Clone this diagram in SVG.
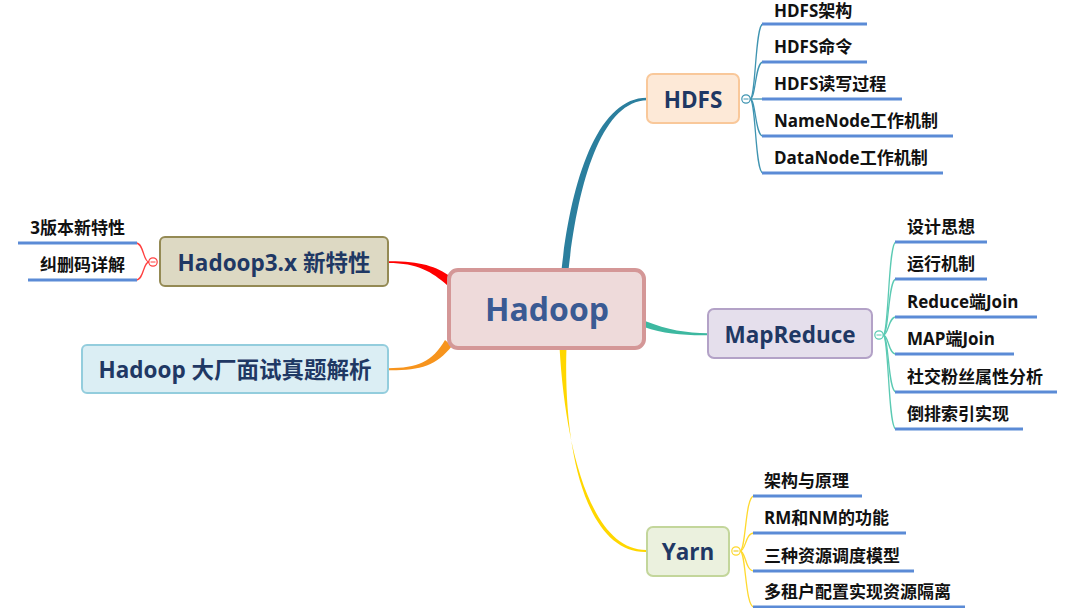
<svg xmlns="http://www.w3.org/2000/svg" width="1071" height="608" viewBox="0 0 1071 608">
<style>
.node text{font-family:"Open Sans","Noto Sans CJK SC",sans-serif;font-weight:bold;text-anchor:middle}
.nt{fill:#1f3864;font-size:22.5px}
.leaf text{font-family:"Open Sans","Noto Sans CJK SC",sans-serif;font-weight:bold;font-size:17px;fill:#111}
.ul{stroke:#5b8bd6;stroke-width:3;fill:none}
.br{fill:none;stroke-width:1.3}
.col{fill:#fff;stroke-width:1.2}
</style>
<rect width="1071" height="608" fill="#fff"/>
<g id="connectors">
  <path d="M561.5,270 C571,180 598,97.5 647,97.8 L647,100.2 C602,101 578,182 568.5,270 Z" fill="#2b7f9e"/>
  <path d="M645,321 C668,330 686,333 708,333.2 L708,335.2 C684,335.5 664,334 644,327 Z" fill="#3db8a0"/>
  <path d="M559.5,347 C565,445 590,551 647,550 L647,552 C586,554 563,450 566.5,347 Z" fill="#ffd700"/>
  <path d="M388,261.2 C420,261 436,266 451,277 L447,285 C432,272 418,263 388,263 Z" fill="#ff0000"/>
  <path d="M388,368.2 C418,368 432,362 445,340 L452,346 C436,366 420,370.5 388,370.2 Z" fill="#f7941d"/>
  <g stroke="#3f94b1" class="br">
    <path d="M750,99 C756,99 755,24 763,24"/>
    <path d="M750,99 C756,99 755,62 763,62"/>
    <path d="M750,99 L763,99"/>
    <path d="M750,99 C756,99 755,136 763,136"/>
    <path d="M750,99 C756,99 755,173 763,173"/>
  </g>
  <g stroke="#5bcab3" class="br">
    <path d="M883,335 C889,335 888,242 896,242"/>
    <path d="M883,335 C889,335 888,279 896,279"/>
    <path d="M883,335 C889,335 888,317 896,317"/>
    <path d="M883,335 C889,335 888,354 896,354"/>
    <path d="M883,335 C889,335 888,392 896,392"/>
    <path d="M883,335 C889,335 888,429 896,429"/>
  </g>
  <g stroke="#ffd92e" class="br">
    <path d="M740,551 C746,551 745,496 754,496"/>
    <path d="M740,551 C746,551 745,533 754,533"/>
    <path d="M740,551 C746,551 745,571 754,571"/>
    <path d="M740,551 C746,551 745,607 754,607"/>
  </g>
  <g stroke="#ff4040" class="br">
    <path d="M149,262 C143,262 144,243 136,243"/>
    <path d="M149,262 C143,262 144,280 136,280"/>
  </g>
  <g>
    <circle cx="746" cy="99" r="4.2" class="col" stroke="#3f94b1"/><path d="M743.5,99 H748.5" stroke="#3f94b1" stroke-width="1"/>
    <circle cx="879" cy="335" r="4.2" class="col" stroke="#5bcab3"/><path d="M876.5,335 H881.5" stroke="#5bcab3" stroke-width="1"/>
    <circle cx="736" cy="551" r="4.2" class="col" stroke="#ffd92e"/><path d="M733.5,551 H738.5" stroke="#e6c200" stroke-width="1"/>
    <circle cx="153" cy="262" r="4.2" class="col" stroke="#ff4040"/><path d="M150.5,262 H155.5" stroke="#ff4040" stroke-width="1"/>
  </g>
</g>
<g id="hadoop" class="node">
  <rect x="449" y="270" width="195" height="78" rx="9" fill="#eedada" stroke="#d49797" stroke-width="4"/>
  <text x="547" y="321" font-size="32" fill="#3a5a93">Hadoop</text>
</g>
<g id="hdfs" class="node">
  <rect x="647" y="74" width="92" height="49" rx="6" fill="#fde9d7" stroke="#f9c89a" stroke-width="2"/>
  <text x="693" y="108" class="nt">HDFS</text>
</g>
<g id="mapreduce" class="node">
  <rect x="708" y="309" width="164" height="49" rx="6" fill="#e5dfec" stroke="#b3a2c7" stroke-width="2"/>
  <text x="790" y="343" class="nt">MapReduce</text>
</g>
<g id="yarn" class="node">
  <rect x="647" y="527" width="82" height="49" rx="6" fill="#ebf1de" stroke="#c3d69b" stroke-width="2"/>
  <text x="688" y="560" class="nt">Yarn</text>
</g>
<g id="hadoop3x" class="node">
  <rect x="160" y="237" width="228" height="49" rx="5" fill="#ddd9c3" stroke="#948a54" stroke-width="2"/>
  <text x="274" y="271" class="nt">Hadoop3.x 新特性</text>
</g>
<g id="interview" class="node">
  <rect x="82" y="345" width="306" height="48" rx="5" fill="#dbeef4" stroke="#93cddd" stroke-width="2"/>
  <text x="235" y="378" class="nt">Hadoop 大厂面试真题解析</text>
</g>
<g id="hdfs-children" class="leaf">
  <g id="hdfs-arch"><text x="774" y="17">HDFS架构</text><path class="ul" d="M762,24 H867"/></g>
  <g id="hdfs-cmd"><text x="774" y="53">HDFS命令</text><path class="ul" d="M762,62 H867"/></g>
  <g id="hdfs-rw"><text x="774" y="90">HDFS读写过程</text><path class="ul" d="M762,99 H902"/></g>
  <g id="hdfs-nn"><text x="774" y="127">NameNode工作机制</text><path class="ul" d="M762,136 H953"/></g>
  <g id="hdfs-dn"><text x="774" y="164">DataNode工作机制</text><path class="ul" d="M762,173 H943"/></g>
</g>
<g id="mr-children" class="leaf">
  <g id="mr-design"><text x="907" y="233">设计思想</text><path class="ul" d="M895,242 H987"/></g>
  <g id="mr-run"><text x="907" y="270">运行机制</text><path class="ul" d="M895,279 H987"/></g>
  <g id="mr-rjoin"><text x="907" y="308">Reduce端Join</text><path class="ul" d="M895,317 H1037"/></g>
  <g id="mr-mjoin"><text x="907" y="345">MAP端Join</text><path class="ul" d="M895,354 H1014"/></g>
  <g id="mr-social"><text x="907" y="383">社交粉丝属性分析</text><path class="ul" d="M895,392 H1057"/></g>
  <g id="mr-index"><text x="907" y="420">倒排索引实现</text><path class="ul" d="M895,429 H1023"/></g>
</g>
<g id="yarn-children" class="leaf">
  <g id="yarn-arch"><text x="764" y="487">架构与原理</text><path class="ul" d="M753,496 H862"/></g>
  <g id="yarn-rmnm"><text x="764" y="524">RM和NM的功能</text><path class="ul" d="M753,533 H906"/></g>
  <g id="yarn-sched"><text x="764" y="562">三种资源调度模型</text><path class="ul" d="M753,571 H914"/></g>
  <g id="yarn-tenant"><text x="764" y="598">多租户配置实现资源隔离</text><path class="ul" d="M753,607 H965"/></g>
</g>
<g id="h3-children" class="leaf">
  <g id="h3-new"><text x="125" y="234" text-anchor="end">3版本新特性</text><path class="ul" d="M18,243 H137"/></g>
  <g id="h3-ec"><text x="125" y="271" text-anchor="end">纠删码详解</text><path class="ul" d="M28,280 H137"/></g>
</g>
</svg>
